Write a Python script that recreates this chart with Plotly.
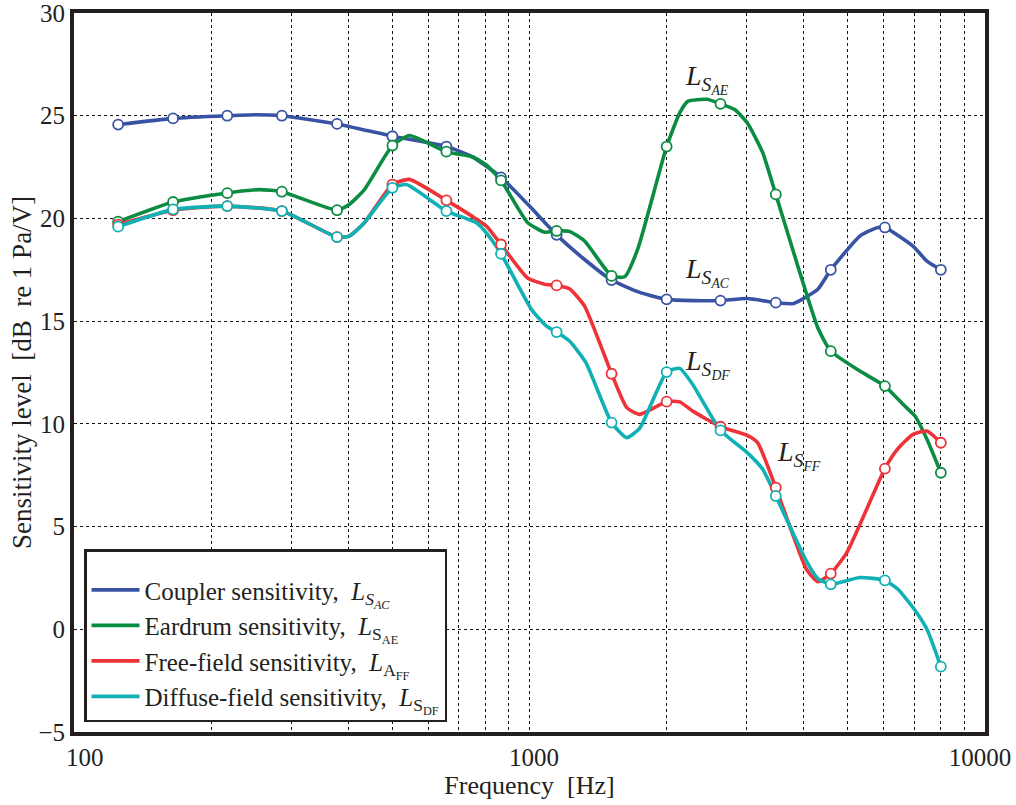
import plotly.graph_objects as go

# Marker frequencies (Hz)
marker_freq = [125, 165, 217, 286, 378, 500, 657, 866, 1147, 1514, 2000, 2626, 3473, 4586, 6029, 8000]

# Marker values (dB re 1 Pa/V)
coupler_mk = [24.57, 24.87, 25.0, 25.0, 24.6, 24.0, 23.5, 22.0, 19.2, 17.0, 16.06, 16.0, 15.9, 17.5, 19.56, 17.5]
eardrum_mk = [19.84, 20.8, 21.23, 21.3, 20.4, 23.55, 23.25, 21.85, 19.39, 17.2, 23.5, 25.58, 21.17, 13.54, 11.84, 7.62]
free_mk = [19.7, 20.4, 20.6, 20.36, 19.09, 21.65, 20.88, 18.73, 16.74, 12.44, 11.08, 9.86, 6.9, 2.71, 7.82, 9.08]
diffuse_mk = [19.6, 20.44, 20.6, 20.36, 19.09, 21.49, 20.36, 18.28, 14.47, 10.06, 12.52, 9.68, 6.49, 2.19, 2.38, -1.82]

# Curve vertices (frequency, value)
coupler_f = [125, 165, 217, 250, 286, 378, 500, 657, 749, 866, 1000, 1147, 1321, 1514, 1745, 2000, 2300, 2626, 3006, 3473, 3800, 4295, 4586, 5313, 5794, 6029, 6950, 7457, 8000]
coupler_v = [24.57, 24.87, 25.0, 25.05, 25.0, 24.6, 24.0, 23.5, 23.0, 22.0, 20.6, 19.2, 18.0, 17.0, 16.4, 16.06, 16.0, 16.0, 16.1, 15.9, 15.86, 16.55, 17.5, 19.14, 19.55, 19.56, 18.65, 17.92, 17.5]

eardrum_f = [125, 165, 216, 255, 286, 378, 402, 434, 500, 545, 657, 749, 804, 866, 990, 1079, 1147, 1224, 1321, 1514, 1618, 1728, 2000, 2137, 2225, 2449, 2626, 2821, 3006, 3251, 3473, 4295, 4586, 5313, 6029, 6607, 7018, 7457, 8000]
eardrum_v = [19.84, 20.8, 21.23, 21.4, 21.3, 20.4, 20.68, 21.4, 23.55, 24.04, 23.25, 23.0, 22.6, 21.85, 19.8, 19.33, 19.39, 19.37, 18.9, 17.2, 17.16, 18.5, 23.5, 25.14, 25.7, 25.8, 25.58, 25.3, 24.66, 23.2, 21.17, 14.68, 13.54, 12.57, 11.84, 10.95, 10.38, 9.25, 7.62]

free_f = [125, 165, 216, 286, 378, 402, 434, 500, 545, 657, 749, 804, 866, 990, 1079, 1147, 1224, 1321, 1514, 1635, 1745, 2000, 2137, 2282, 2626, 3006, 3170, 3473, 4055, 4295, 4586, 4973, 6029, 6440, 6950, 7457, 8000]
free_v = [19.7, 20.4, 20.6, 20.36, 19.09, 19.14, 19.79, 21.65, 21.9, 20.88, 20.1, 19.63, 18.73, 17.1, 16.8, 16.74, 16.58, 15.73, 12.44, 10.79, 10.46, 11.08, 11.07, 10.62, 9.86, 9.44, 9.08, 6.9, 2.92, 2.32, 2.71, 3.73, 7.82, 8.79, 9.49, 9.65, 9.08]

diffuse_f = [125, 165, 216, 286, 378, 402, 434, 500, 537, 657, 765, 804, 866, 1010, 1090, 1147, 1224, 1330, 1514, 1635, 1745, 2000, 2137, 2282, 2626, 3006, 3251, 3473, 4055, 4295, 4586, 5313, 6029, 6440, 6950, 7457, 8000]
diffuse_v = [19.6, 20.44, 20.6, 20.36, 19.09, 19.14, 19.79, 21.49, 21.65, 20.36, 19.79, 19.3, 18.28, 15.57, 14.76, 14.47, 14.03, 12.98, 10.06, 9.33, 9.78, 12.52, 12.7, 11.92, 9.68, 8.6, 7.79, 6.49, 3.32, 2.47, 2.19, 2.52, 2.38, 1.95, 1.06, 0.0, -1.82]

x_ticks = [100, 1000, 10000]
x_tick_text = ["&nbsp;&nbsp;&nbsp;&nbsp;&nbsp;100", "&nbsp;&nbsp;&nbsp;1000", "10000"]
y_ticks = [-5, 0, 5, 10, 15, 20, 25, 30]


def sub_label(main, s1, s2, italic_sub):
    a, b = ("<i>", "</i>") if italic_sub else ("", "")
    return (f"<i>{main}</i><sub>{a}{s1}{b}</sub>"
            f"<sub><sub>{a}{s2}{b}</sub></sub>")


series = [
    ("Coupler sensitivity,&nbsp; " + sub_label("L", "S", "AC", True), coupler_f, coupler_v, coupler_mk, "#3953a4"),
    ("Eardrum sensitivity,&nbsp; " + sub_label("L", "S", "AE", False), eardrum_f, eardrum_v, eardrum_mk, "#0b8c43"),
    ("Free-field sensitivity,&nbsp; " + sub_label("L", "A", "FF", False), free_f, free_v, free_mk, "#ee3338"),
    ("Diffuse-field sensitivity,&nbsp; " + sub_label("L", "S", "DF", False), diffuse_f, diffuse_v, diffuse_mk, "#10b1b5"),
]

fig = go.Figure()
for name, f, v, mk, col in series:
    fig.add_trace(go.Scatter(x=f, y=v, mode="lines", name=name,
                             line=dict(color=col, width=3.6, shape="spline", smoothing=0.5)))
for name, f, v, mk, col in series:
    fig.add_trace(go.Scatter(x=marker_freq, y=mk, mode="markers", showlegend=False,
                             marker=dict(symbol="circle", size=10, color="white",
                                         line=dict(color=col, width=1.8))))

font_family = "Liberation Serif, Times New Roman, serif"
ink = "#231f20"
ann_font = dict(family=font_family, size=28, color=ink)
annotations = [
    dict(x=3.337, y=26.8, text=sub_label("L", "S", "AE", True)),
    dict(x=3.337, y=17.4, text=sub_label("L", "S", "AC", True)),
    dict(x=3.337, y=12.9, text=sub_label("L", "S", "DF", True)),
    dict(x=3.539, y=8.5, text=sub_label("L", "S", "FF", True)),
]
for a in annotations:
    a.update(xref="x", yref="y", showarrow=False, font=ann_font, xanchor="left", yanchor="middle")
fig.update_layout(annotations=annotations)

minor_vals = [200, 300, 400, 500, 600, 700, 800, 900, 1000, 2000, 3000, 4000, 5000, 6000, 7000, 8000, 9000]

fig.update_xaxes(type="log", range=[2, 4], tickvals=x_ticks, ticktext=x_tick_text,
                 showgrid=False, showline=True, linewidth=4, linecolor=ink, mirror=True,
                 ticks="", zeroline=False, automargin=False, ticklabeloverflow="allow",
                 ticklabelshift=-5,
                 minor=dict(tickvals=minor_vals, showgrid=True, gridcolor="#111", griddash="dot", gridwidth=1.3),
                 title=dict(text="Frequency&nbsp; [Hz]", font=dict(family=font_family, size=26, color=ink), standoff=6),
                 tickfont=dict(family=font_family, size=25, color=ink))
fig.update_yaxes(range=[-5, 30], tickvals=y_ticks,
                 showgrid=False, showline=True, linewidth=4, linecolor=ink, mirror=True,
                 ticks="", zeroline=False, automargin=False, ticklabeloverflow="allow",
                 minor=dict(tickvals=[0, 5, 10, 15, 20, 25], showgrid=True, gridcolor="#111", griddash="dot", gridwidth=1.3),
                 title=dict(text="Sensitivity level&nbsp; [dB&nbsp; re 1 Pa/V]", font=dict(family=font_family, size=27, color=ink), standoff=0),
                 tickfont=dict(family=font_family, size=25, color=ink))

fig.update_layout(
    width=1016, height=805,
    margin=dict(l=74, r=31, t=13, b=73),
    paper_bgcolor="white", plot_bgcolor="white",
    legend=dict(x=0.011, y=0.2545, xanchor="left", yanchor="top",
                bgcolor="white", bordercolor=ink, borderwidth=2.5,
                font=dict(family=font_family, size=25, color=ink),
                title=dict(text=" ", font=dict(size=12)),
                itemwidth=48, tracegroupgap=0),
)

fig.write_html("out.html", config={"displayModeBar": False},
               post_script="document.body.style.margin='0px';")
